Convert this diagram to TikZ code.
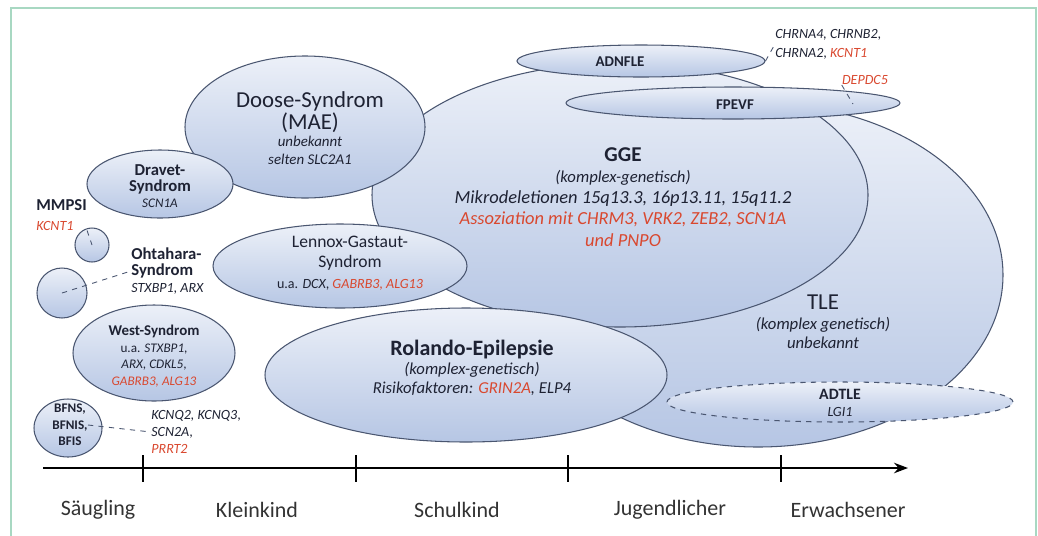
\documentclass[tikz,border=0pt]{standalone}
\usepackage{fontspec}
\setmainfont{Carlito}
\usetikzlibrary{shapes.geometric, arrows.meta}

\definecolor{rimC}{HTML}{4A5670}
\definecolor{lightC}{RGB}{236,240,248}
\definecolor{darkC}{RGB}{182,198,228}
\definecolor{geneRed}{HTML}{D9482F}
\definecolor{inkC}{HTML}{1E2233}
\definecolor{frameC}{HTML}{A8D8C2}

\newcommand{\fs}[2]{\fontsize{#1}{#2}\selectfont}
\newcommand{\gn}[1]{\textit{#1}}
\newcommand{\rgn}[1]{\textcolor{geneRed}{\textit{#1}}}

\begin{document}
\begin{tikzpicture}[x=0.02cm, y=-0.02cm, >=Stealth]
    \tikzset{
        blob/.style 2 args={
                ellipse, draw=rimC, line width=0.6pt, inner sep=0pt,
                top color=lightC, bottom color=darkC,
                minimum width=#1*0.02cm, minimum height=#2*0.02cm
            },
        lbl/.style={align=center, text=inkC, inner sep=0pt},
        conn/.style={draw=rimC, dashed, line width=0.5pt},
        axis/.style={line width=1.1pt, black}
    }
    \useasboundingbox (0,0) rectangle (1038,535);

    % Frame
    \draw[frameC, line width=1.4pt] (11,536) -- (11,8) -- (1036,8) -- (1036,536);

    % Ellipses, back to front
    \node[blob={490}{344}] (tle) at (758,275) {};
    \node[blob={496}{264}] (gge) at (620,195) {};
    \node[blob={240}{142}] (doose) at (305,127) {};
    \node[blob={146}{68}] (dravet) at (160,184) {};
    \node[blob={34}{34}] (mmpsi) at (92,245) {};
    \node[blob={50}{50}] (ohta) at (62,293) {};
    \node[blob={162}{96}] (west) at (154,353) {};
    \node[blob={68}{58}] (bfns) at (68,428) {};
    \node[blob={254}{84}] (lennox) at (340,266) {};
    \node[blob={402}{134}] (rolando) at (466,375) {};
    \node[blob={248}{32}] (adnfle) at (641,61) {};
    \node[blob={334}{32}] (fpevf) at (733,103) {};
    \node[blob={346}{40}, dashed] (adtle) at (840,402) {};

    % Texts in the ellipses
    \node[lbl, font=\fs{8.5}{10}] (dooseT) at (310,128)
        {{\fs{13}{15}Doose-Syndrom}\\{\fs{13}{15}(MAE)}\\\textit{unbekannt}\\\textit{selten SLC2A1}};
    \node[lbl, font=\fs{7.5}{9}] (dravetT) at (160,186)
        {{\fs{9.5}{11}\bfseries Dravet-}\\{\fs{9.5}{11}\bfseries Syndrom}\\\gn{SCN1A}};
    \node[lbl, font=\fs{7.5}{9.5}] (westT) at (154,356)
        {{\fs{8.5}{10}\bfseries West-Syndrom}\\u.a. \gn{STXBP1},\\\gn{ARX, CDKL5},\\\rgn{GABRB3, ALG13}};
    \node[lbl, font=\fs{7.5}{9.5}\bfseries] (bfnsT) at (70,425) {BFNS,\\BFNIS,\\BFIS};
    \node[lbl, font=\fs{10}{11.5}] (lennoxT) at (350,263)
        {Lennox-Gastaut-\\Syndrom\\{\fs{8}{10}u.a. \gn{DCX}, \rgn{GABRB3, ALG13}}};
    \node[lbl, font=\fs{10.5}{12}] (ggeT) at (623,197)
        {{\fs{12}{14}\bfseries GGE}\\{\fs{9.5}{11}\itshape (komplex-genetisch)}\\
         \textit{Mikrodeletionen 15q13.3, 16p13.11, 15q11.2}\\
         \rgn{Assoziation mit CHRM3, VRK2, ZEB2, SCN1A}\\\rgn{und PNPO}};
    \node[lbl, font=\fs{9.5}{11}] (rolandoT) at (472,368)
        {{\fs{12.5}{14}\bfseries Rolando-Epilepsie}\\\textit{(komplex-genetisch)}\\
         \textit{Risikofaktoren: \rgn{GRIN2A}, ELP4}};
    \node[lbl, font=\fs{9.5}{11}] (tleT) at (823,322)
        {{\fs{13}{15}TLE}\\\textit{(komplex genetisch)}\\\textit{unbekannt}};
    \node[lbl, font=\fs{8}{10}] (adtleT) at (840,403) {{\fs{9}{10}\bfseries ADTLE}\\\gn{LGI1}};
    \node[lbl, font=\fs{8.5}{10}\bfseries] (adnfleT) at (620,62) {ADNFLE};
    \node[lbl, font=\fs{8.5}{10}\bfseries] (fpevfT) at (735,105) {FPEVF};

    % Outside labels
    \node[lbl, align=left, anchor=west, font=\fs{9.5}{11}] (mmpsiT) at (36,215)
        {\textbf{MMPSI}\\{\fs{8}{10}\rgn{KCNT1}}};
    \node[lbl, align=left, anchor=west, font=\fs{8}{9.5}] (ohtaT) at (131,271)
        {{\fs{9.5}{11}\bfseries Ohtahara-}\\{\fs{9.5}{11}\bfseries Syndrom}\\\gn{STXBP1, ARX}};
    \node[lbl, align=left, anchor=west, font=\fs{8}{9.5}] (bfnsG) at (151,432)
        {\gn{KCNQ2, KCNQ3},\\\gn{SCN2A},\\\rgn{PRRT2}};
    \node[lbl, align=left, anchor=west, font=\fs{8}{11}] (adnfleG) at (775,44)
        {\gn{CHRNA4, CHRNB2},\\\gn{CHRNA2}, \rgn{KCNT1}};
    \node[lbl, font=\fs{8}{10}] (depdcT) at (865,80) {\rgn{DEPDC5}};
    \coordinate (depdcEnd) at (853,104);

    % Dashed connectors
    \draw[conn] (mmpsiT.south east) -- (mmpsi.center);
    \draw[conn] (ohta.center) -- (ohtaT.west);
    \draw[conn] (bfnsT.east) -- (bfnsG.west);
    \draw[conn] (adnfle.east) -- (adnfleG.west);
    \draw[conn] (depdcT.south west) -- (depdcEnd);

    % Time axis
    \coordinate (axStart) at (43,468);
    \coordinate (axEnd) at (908,468);
    \draw[axis, ->] (axStart) -- (axEnd);
    \foreach \tx in {143,356,568,781}
        \draw[axis] (\tx,455) -- (\tx,482);

    \foreach \ax/\aname/\atext in {98/sg/Säugling, 257/kk/Kleinkind, 457/sk/Schulkind,
            670/jg/Jugendlicher, 848/ew/Erwachsener}
        \node[font=\fs{12.5}{14}, text=black!80] (\aname) at (\ax,510) {\atext};
\end{tikzpicture}
\end{document}
